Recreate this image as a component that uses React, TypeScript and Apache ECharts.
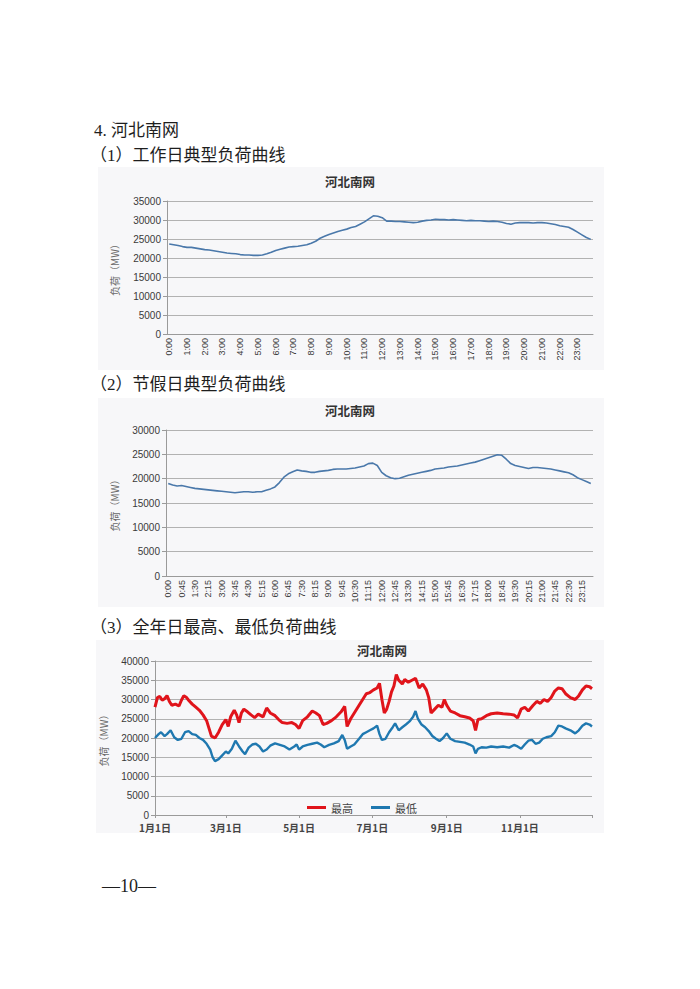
import React, { useEffect, useRef } from "react";
import * as echarts from "echarts";

// ---------- data ----------
const workdayLoad = [
  23700, 23500, 23300, 23000, 22800, 22800, 22600, 22400,
  22200, 22100, 21900, 21700, 21500, 21300, 21200, 21100,
  20900, 20800, 20800, 20700, 20700, 20800, 21100, 21500,
  22000, 22300, 22600, 22900, 23000, 23100, 23300, 23500,
  23900, 24400, 25200, 25700, 26200, 26600, 27000, 27300,
  27600, 28000, 28300, 28900, 29500, 30300, 31100, 31000,
  30600, 29700, 29700, 29600, 29600, 29500, 29400, 29300,
  29400, 29700, 29900, 30000, 30200, 30100, 30100, 30000,
  30100, 30000, 29900, 29800, 29900, 29800, 29800, 29700,
  29600, 29700, 29600, 29400, 29100, 28900, 29200, 29300,
  29300, 29300, 29200, 29300, 29300, 29200, 29000, 28800,
  28500, 28300, 28100, 27500, 26800, 26100, 25400, 24900,
];

const holidayLoad = [
  19000, 18700, 18500, 18600, 18400, 18200, 18000, 17900,
  17800, 17700, 17600, 17500, 17400, 17300, 17200, 17100,
  17200, 17300, 17300, 17200, 17300, 17300, 17600, 17900,
  18300, 19200, 20300, 21000, 21400, 21800, 21600, 21500,
  21300, 21300, 21500, 21600, 21700, 21900, 22000, 22000,
  22000, 22100, 22200, 22400, 22600, 23100, 23200, 22700,
  21300, 20600, 20200, 20000, 20100, 20400, 20700, 20900,
  21100, 21300, 21500, 21700, 22000, 22100, 22200, 22400,
  22500, 22600, 22800, 23000, 23200, 23400, 23700, 24000,
  24300, 24600, 24900, 24800, 24000, 23100, 22700, 22500,
  22300, 22100, 22300, 22300, 22200, 22100, 22000, 21800,
  21600, 21400, 21200, 20800, 20200, 19800, 19400, 19000,
];

// day-of-year index (0 = 1月1日) and daily maximum load
const maxDays = [
  0, 2, 4, 6, 8, 10, 12, 14, 17, 20, 22, 24, 26, 28, 31, 34, 37, 40, 43, 45,
  47, 50, 53, 56, 59, 61, 63, 66, 68, 70, 72, 74, 77, 80, 83, 86, 90, 93, 96, 100,
  103, 106, 110, 114, 117, 120, 123, 127, 131, 134, 137, 140, 143, 147, 151, 155, 158, 160, 163, 166,
  170, 173, 176, 179, 182, 185, 187, 189, 191, 193, 195, 197, 199, 201, 203, 206, 208, 211, 214, 217,
  220, 223, 226, 228, 230, 233, 236, 239, 241, 243, 246, 250, 254, 258, 262, 265, 267, 269, 272, 276,
  280, 285, 290, 295, 299, 302, 305, 308, 311, 315, 318, 321, 324, 327, 330, 333, 336, 339, 342, 346,
  350, 353, 356, 359, 362, 364,
];
const maxVals = [
  28000, 30500, 30800, 29800, 30200, 31000, 29500, 28500, 28800, 28300, 29800, 31000, 30600, 29800, 28800, 28000, 27200, 26000, 24500, 22500,
  20500, 20000, 21500, 23500, 24800, 23000, 25500, 27200, 26000, 24000, 26500, 27500, 26800, 26000, 25300, 26200, 25500, 27800, 26500, 25800,
  24800, 24000, 23800, 24000, 23500, 22500, 24500, 25500, 27000, 26500, 25800, 23500, 23800, 24500, 25500, 26800, 28200, 23000, 25000, 26500,
  28500, 30000, 31500, 31800, 32500, 33000, 34200, 30000, 26500, 27500, 29500, 32000, 33500, 36500, 35000, 34000, 35200, 34500, 35000, 35500,
  33000, 34000, 32500, 30500, 26500, 27500, 28500, 28000, 30000, 28500, 27000, 26500, 25800, 25500, 25200, 24500, 22000, 24800, 25000, 25800,
  26300, 26500, 26300, 26200, 26000, 25200, 27500, 28000, 27000, 28500, 29500, 29000, 30000, 29500, 30500, 32200, 33000, 32800, 31500, 30500,
  30000, 31000, 32500, 33500, 33300, 32800,
];

// day-of-year index and daily minimum load
const minDays = [
  0, 3, 5, 8, 10, 13, 16, 19, 22, 25, 28, 31, 34, 37, 40, 43, 46, 48, 50, 53,
  56, 59, 61, 64, 67, 70, 73, 75, 78, 81, 84, 87, 90, 93, 96, 100, 104, 108, 112, 116,
  118, 120, 123, 127, 131, 135, 138, 141, 145, 149, 153, 156, 158, 160, 163, 166, 170, 173, 176, 179,
  182, 185, 187, 189, 192, 195, 198, 200, 203, 206, 209, 212, 215, 217, 219, 222, 225, 228, 231, 234,
  237, 240, 243, 246, 250, 254, 258, 262, 265, 267, 269, 272, 276, 280, 285, 290, 295, 299, 302, 305,
  308, 311, 314, 317, 320, 323, 326, 330, 333, 336, 339, 342, 346, 350, 353, 356, 359, 362, 364,
];
const minVals = [
  20000, 21000, 21500, 20500, 21000, 22000, 20200, 19500, 19800, 21500, 21800, 21000, 20800, 20000, 19500, 18500, 17000, 15000, 14000, 14500,
  15500, 16500, 16000, 17200, 19300, 17800, 16500, 15800, 17500, 18300, 18500, 17800, 16500, 17000, 18000, 18600, 18200, 17800, 17000, 17800,
  18300, 17000, 17800, 18200, 18500, 18800, 18300, 17600, 18200, 18600, 19200, 20800, 19500, 17200, 17800, 18300, 19800, 21000, 21500, 22000,
  22500, 23200, 21000, 19500, 19800, 21500, 22800, 23800, 22000, 22800, 23500, 24300, 25500, 27000, 25000, 23500, 22800, 21800, 20500, 19800,
  19200, 20000, 21200, 19800, 19200, 19000, 18800, 18300, 17800, 16000, 17200, 17600, 17500, 17800, 17600, 17800, 17500, 18200, 17800, 17200,
  18300, 19300, 19500, 18500, 18800, 19800, 20200, 20500, 21500, 23200, 23000, 22500, 22000, 21200, 22000, 23200, 23800, 23500, 23000,
];

const monthLabelDays = [0, 59, 120, 181, 243, 304];
const seriesNames = ["最高", "最低"];

// ---------- categories ----------
const quarterHours: string[] = [];
for (let i = 0; i < 96; i++) {
  const h = Math.floor(i / 4);
  const m = (i % 4) * 15;
  quarterHours.push(`${h}:${m === 0 ? "00" : m}`);
}
const monthLens = [31, 28, 31, 30, 31, 30, 31, 31, 30, 31, 30, 31];
const yearDays: string[] = [];
monthLens.forEach((len, mi) => {
  for (let d = 1; d <= len; d++) yearDays.push(`${mi + 1}月${d}日`);
});

const SERIF = "'Liberation Serif','Noto Sans CJK SC',serif";
const CJK = "'Noto Sans CJK SC',sans-serif";
const LAB = "'Liberation Sans','DejaVu Sans',sans-serif";

export default function App() {
  const ref = useRef<HTMLDivElement>(null);
  useEffect(() => {
    if (!ref.current) return;
    const chart = echarts.init(ref.current, undefined, { renderer: "svg" });

    const gridLine = { lineStyle: { color: "#b2b2b2", width: 1 } };
    const axisCol = "#9a9a9a";
    const yCommon = (max: number, nameGap: number) => ({
      type: "value",
      min: 0,
      max,
      interval: 5000,
      axisLine: { show: true, lineStyle: { color: axisCol } },
      axisTick: { show: true, length: 4, lineStyle: { color: axisCol } },
      splitLine: gridLine,
      axisLabel: {
        fontSize: 10,
        color: "#3a3a3a",
        fontFamily: LAB,
        margin: 6,
        formatter: (v: number) => String(v),
      },
      name: "负荷（MW）",
      nameLocation: "middle",
      nameGap,
      nameRotate: 90,
      nameTextStyle: { fontSize: 10, color: "#6a6a6a", fontFamily: CJK },
    });

    const text = (t: string, x: number, y: number, size: number, opts: any = {}) => ({
      type: "text",
      x,
      y,
      style: {
        text: t,
        fontSize: size,
        fontFamily: opts.family || SERIF,
        fontWeight: opts.weight || "normal",
        fill: opts.color || "#1e1e1e",
        textAlign: opts.align || "left",
        align: opts.align || "left",
        textVerticalAlign: "middle",
        verticalAlign: "middle",
      },
    });
    const bg = (x: number, y: number, w: number, h: number) => ({
      type: "rect",
      z: -10,
      shape: { x, y, width: w, height: h },
      style: { fill: "#f7f7f9" },
    });

    chart.setOption({
      animation: false,
      backgroundColor: "#ffffff",
      graphic: [
        bg(98, 167, 506, 203),
        bg(98, 398, 506, 209),
        bg(96, 640, 508, 193),
        text("4. 河北南网", 94, 130, 17),
        text("（1）工作日典型负荷曲线", 90, 155, 17),
        text("（2）节假日典型负荷曲线", 90, 384, 17),
        text("（3）全年日最高、最低负荷曲线", 90, 627, 17),
        text("河北南网", 350, 181, 12.5, { family: CJK, weight: "bold", align: "center", color: "#333" }),
        text("河北南网", 350, 410, 12.5, { family: CJK, weight: "bold", align: "center", color: "#333" }),
        text("河北南网", 382, 650, 12.5, { family: CJK, weight: "bold", align: "center", color: "#333" }),
        text("—10—", 102, 886, 18),
      ],
      grid: [
        { left: 167, top: 201, width: 426, height: 133 },
        { left: 166, top: 430, width: 427, height: 146 },
        { left: 155, top: 661, width: 437, height: 154 },
      ],
      xAxis: [
        {
          gridIndex: 0,
          type: "category",
          data: quarterHours,
          boundaryGap: true,
          axisLine: { lineStyle: { color: axisCol } },
          axisTick: { interval: 0, length: 3, lineStyle: { color: axisCol } },
          axisLabel: { interval: 3, rotate: 90, fontSize: 9, color: "#3a3a3a", fontFamily: LAB, margin: 4 },
        },
        {
          gridIndex: 1,
          type: "category",
          data: quarterHours,
          boundaryGap: true,
          axisLine: { lineStyle: { color: axisCol } },
          axisTick: { interval: 0, length: 3, lineStyle: { color: axisCol } },
          axisLabel: { interval: 2, rotate: 90, fontSize: 9, color: "#3a3a3a", fontFamily: LAB, margin: 4 },
        },
        {
          gridIndex: 2,
          type: "category",
          data: yearDays,
          boundaryGap: false,
          axisLine: { lineStyle: { color: axisCol } },
          axisTick: {
            interval: (i: number) => monthLabelDays.includes(i) || i === yearDays.length - 1,
            length: 3,
            lineStyle: { color: axisCol },
          },
          axisLabel: {
            interval: (i: number) => monthLabelDays.includes(i),
            fontSize: 10,
            fontWeight: "bold",
            color: "#444",
            fontFamily: CJK,
            margin: 7,
          },
        },
      ],
      yAxis: [
        { gridIndex: 0, ...yCommon(35000, 48) },
        { gridIndex: 1, ...yCommon(30000, 47) },
        { gridIndex: 2, ...yCommon(40000, 47) },
      ],
      legend: {
        left: 302,
        top: 797,
        icon: "rect",
        itemWidth: 19,
        itemHeight: 3,
        itemGap: 18,
        textStyle: { fontSize: 11, color: "#444", fontFamily: CJK },
        data: seriesNames,
      },
      series: [
        {
          type: "line",
          xAxisIndex: 0,
          yAxisIndex: 0,
          data: workdayLoad,
          showSymbol: false,
          lineStyle: { color: "#4a78aa", width: 1.6 },
          itemStyle: { color: "#4a78aa" },
        },
        {
          type: "line",
          xAxisIndex: 1,
          yAxisIndex: 1,
          data: holidayLoad,
          showSymbol: false,
          lineStyle: { color: "#4a78aa", width: 1.6 },
          itemStyle: { color: "#4a78aa" },
        },
        {
          name: seriesNames[0],
          type: "line",
          xAxisIndex: 2,
          yAxisIndex: 2,
          data: maxDays.map((d, i) => [d, maxVals[i]]),
          showSymbol: false,
          lineStyle: { color: "#e0141b", width: 3 },
          itemStyle: { color: "#e0141b" },
        },
        {
          name: seriesNames[1],
          type: "line",
          xAxisIndex: 2,
          yAxisIndex: 2,
          data: minDays.map((d, i) => [d, minVals[i]]),
          showSymbol: false,
          lineStyle: { color: "#1f78b0", width: 2.4 },
          itemStyle: { color: "#1f78b0" },
        },
      ],
    });
    return () => chart.dispose();
  }, []);
  return (
    <div
      ref={ref}
      style={{ position: "fixed", left: 0, top: 0, width: 700, height: 989, background: "#fff" }}
    />
  );
}
